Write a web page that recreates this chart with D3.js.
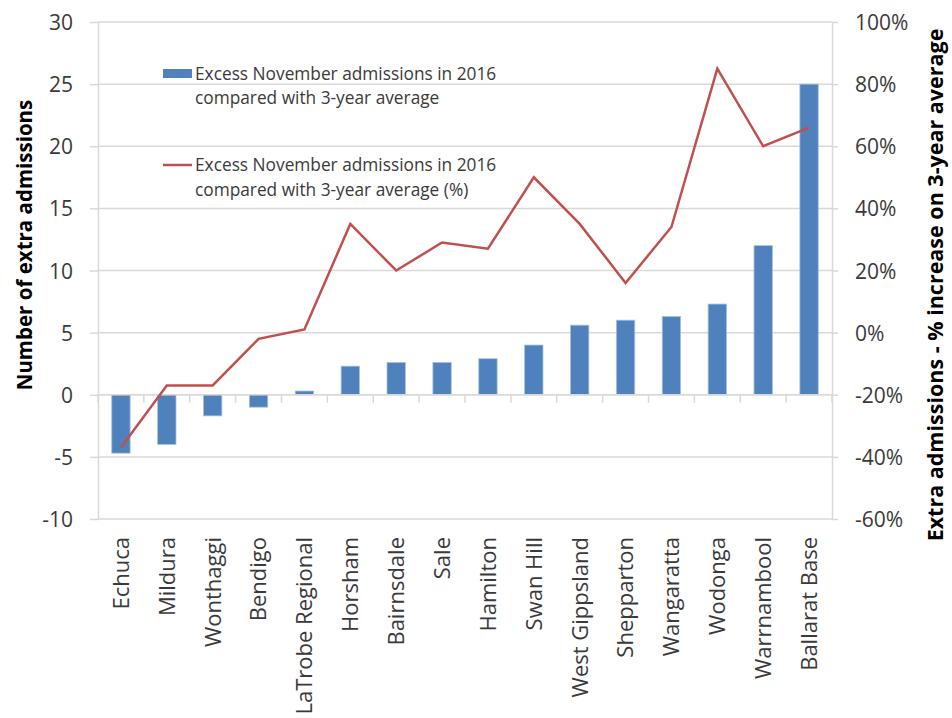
<!DOCTYPE html>
<html>
<head>
<meta charset="utf-8">
<script src="https://cdn.jsdelivr.net/npm/d3@7"></script>
<style>
  html, body { margin: 0; padding: 0; background: #ffffff; }
  svg { display: block; font-family: "Open Sans", sans-serif; }
</style>
</head>
<body>
<svg id="chart" width="952" height="718"></svg>
<script>
const categories = ["Echuca", "Mildura", "Wonthaggi", "Bendigo", "LaTrobe Regional", "Horsham",
  "Bairnsdale", "Sale", "Hamilton", "Swan Hill", "West Gippsland", "Shepparton",
  "Wangaratta", "Wodonga", "Warrnambool", "Ballarat Base"];
const extraAdmissions = [-4.7, -4.0, -1.7, -1.0, 0.3, 2.3, 2.6, 2.6, 2.9, 4.0, 5.6, 6.0, 6.3, 7.3, 12.0, 25.0];
const percentIncrease = [-37, -17, -17, -2, 1, 35, 20, 29, 27, 50, 35, 16, 34, 85, 60, 66];
const leftTicks = [-10, -5, 0, 5, 10, 15, 20, 25, 30];
const rightTicks = [-60, -40, -20, 0, 20, 40, 60, 80, 100];
const legendBarLines = ["Excess November admissions in 2016", "compared with 3-year average"];
const legendLineLines = ["Excess November admissions in 2016", "compared with 3-year average (%)"];
const leftTitle = "Number of extra admissions";
const rightTitle = "Extra admissions - % increase on 3-year average";

const svg = d3.select("#chart");
const plot = { left: 98, right: 832, top: 22, bottom: 519 };
const gridColor = "#d9d9d9";
const textColor = "#3a3a3a";

const x = d3.scaleBand().domain(categories).range([plot.left, plot.right]).paddingInner(0).paddingOuter(0);
const yL = d3.scaleLinear().domain([-10, 30]).range([plot.bottom, plot.top]);
const yR = d3.scaleLinear().domain([-60, 100]).range([plot.bottom, plot.top]);

// gridlines
svg.append("g").selectAll("line").data(leftTicks).join("line")
  .attr("x1", plot.left).attr("x2", plot.right)
  .attr("y1", d => yL(d)).attr("y2", d => yL(d))
  .attr("stroke", gridColor).attr("stroke-width", 1.5);

// left axis
const leftAxis = svg.append("g").attr("transform", `translate(${plot.left},0)`)
  .call(d3.axisLeft(yL).tickValues(leftTicks).tickSize(8).tickPadding(17).tickSizeOuter(0)
    .tickFormat(d => String(d)));
leftAxis.select(".domain").attr("stroke", gridColor).attr("stroke-width", 1.5);
leftAxis.selectAll(".tick line").attr("stroke", gridColor).attr("stroke-width", 1.5);
leftAxis.selectAll(".tick text").attr("fill", textColor).style("font-size", "21px")
  .style("font-family", "'Open Sans', sans-serif").attr("dy", "0.36em");

// right axis
const rightAxis = svg.append("g").attr("transform", `translate(${plot.right},0)`)
  .call(d3.axisRight(yR).tickValues(rightTicks).tickSize(6).tickPadding(17).tickSizeOuter(0)
    .tickFormat(d => String(d) + "%"));
rightAxis.select(".domain").attr("stroke", gridColor).attr("stroke-width", 1.5);
rightAxis.selectAll(".tick line").attr("stroke", gridColor).attr("stroke-width", 1.5);
rightAxis.selectAll(".tick text").attr("fill", textColor).style("font-size", "21px")
  .style("font-family", "'Open Sans', sans-serif").attr("dy", "0.36em");

// bars
svg.append("g").selectAll("rect").data(categories).join("rect")
  .attr("x", (d) => x(d) + x.bandwidth() * 0.3)
  .attr("width", x.bandwidth() * 0.4)
  .attr("y", (d, i) => Math.min(yL(extraAdmissions[i]), yL(0)))
  .attr("height", (d, i) => Math.abs(yL(extraAdmissions[i]) - yL(0)))
  .attr("fill", "#4f81bd")
  .attr("stroke", "#a7c0de").attr("stroke-width", 0.8);

// category axis at zero
const catAxis = svg.append("g").attr("transform", `translate(0,${yL(0)})`);
catAxis.append("line").attr("x1", plot.left).attr("x2", plot.right)
  .attr("stroke", gridColor).attr("stroke-width", 1.5);
const boundaries = categories.map(c => x(c)).concat([x(categories[categories.length - 1]) + x.bandwidth()]);
catAxis.selectAll("line.tk").data(boundaries).join("line").attr("class", "tk")
  .attr("x1", d => d).attr("x2", d => d).attr("y1", 0).attr("y2", 8)
  .attr("stroke", gridColor).attr("stroke-width", 1.5);

// category labels
svg.append("g").selectAll("text").data(categories).join("text")
  .attr("transform", d => `translate(${x(d) + x.bandwidth() / 2},${plot.bottom + 18}) rotate(-90)`)
  .attr("text-anchor", "end")
  .attr("dy", "0.36em")
  .attr("fill", textColor)
  .style("font-size", "22px")
  .text(d => d);

// line
const line = d3.line()
  .x((d, i) => x(categories[i]) + x.bandwidth() / 2)
  .y(d => yR(d));
svg.append("path").datum(percentIncrease)
  .attr("d", line)
  .attr("fill", "none")
  .attr("stroke", "#c0504d")
  .attr("stroke-width", 2.5)
  .attr("stroke-linejoin", "miter");

// axis titles
svg.append("text")
  .attr("transform", "translate(25,245) rotate(-90)")
  .attr("text-anchor", "middle").attr("dy", "0.36em")
  .style("font-size", "20.5px").style("font-weight", "bold").attr("fill", "#000")
  .text(leftTitle);
svg.append("text")
  .attr("transform", "translate(935,285) rotate(-90)")
  .attr("text-anchor", "middle").attr("dy", "0.36em")
  .style("font-size", "21.5px").style("font-weight", "bold").attr("fill", "#000")
  .text(rightTitle);

// legend
const legend = svg.append("g");
legend.append("rect").attr("x", 163).attr("y", 69).attr("width", 29).attr("height", 9).attr("fill", "#4f81bd");
legend.append("line").attr("x1", 163).attr("x2", 192).attr("y1", 165).attr("y2", 165)
  .attr("stroke", "#c0504d").attr("stroke-width", 2.5);
legend.selectAll("text.lb").data(legendBarLines).join("text").attr("class", "lb")
  .attr("x", 195).attr("y", (d, i) => 74 + i * 24).attr("dy", "0.36em")
  .style("font-size", "17.3px").attr("fill", textColor).text(d => d);
legend.selectAll("text.ll").data(legendLineLines).join("text").attr("class", "ll")
  .attr("x", 195).attr("y", (d, i) => 165 + i * 25).attr("dy", "0.36em")
  .style("font-size", "17.3px").attr("fill", textColor).text(d => d);
</script>
</body>
</html>
